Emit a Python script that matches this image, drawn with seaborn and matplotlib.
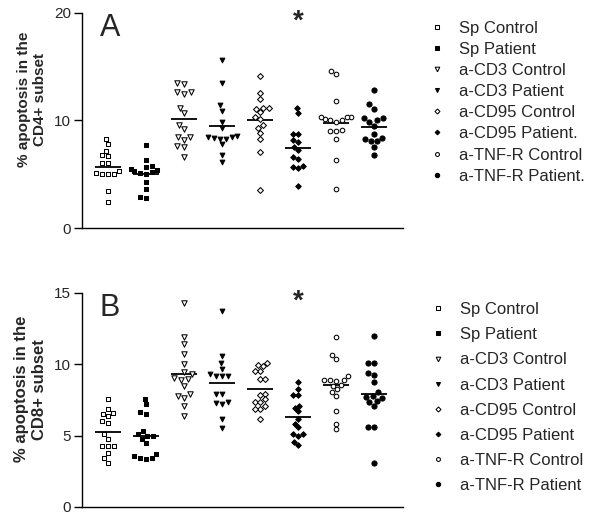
import matplotlib
matplotlib.use("Agg")
import matplotlib.pyplot as plt
from matplotlib.lines import Line2D
import seaborn as sns
import pandas as pd

# ---------------- data ----------------
groups = ["Sp Control", "Sp Patient", "a-CD3 Control", "a-CD3 Patient",
          "a-CD95 Control", "a-CD95 Patient", "a-TNF-R Control", "a-TNF-R Patient"]

legend_labels_A = ["Sp Control", "Sp Patient", "a-CD3 Control", "a-CD3 Patient",
                   "a-CD95 Control", "a-CD95 Patient.", "a-TNF-R Control", "a-TNF-R Patient."]
legend_labels_B = ["Sp Control", "Sp Patient", "a-CD3 Control", "a-CD3 Patient",
                   "a-CD95 Control", "a-CD95 Patient", "a-TNF-R Control", "a-TNF-R Patient"]

# Panel A: % apoptosis in the CD4+ subset
cd4_sp_control = [8.3, 7.8, 7.2, 6.8, 6.7, 6.0, 6.0, 5.0, 5.0, 5.0, 5.1, 5.3, 3.4, 2.4]
cd4_sp_patient = [7.7, 6.3, 5.8, 5.7, 5.5, 5.4, 5.3, 5.2, 5.1, 5.0, 4.3, 3.6, 2.9, 2.8]
cd4_cd3_control = [13.4, 13.5, 12.65, 12.5, 12.65, 11.2, 10.7, 9.6, 9.2, 8.5, 8.5, 8.2, 7.6, 7.5, 6.6]
cd4_cd3_patient = [15.6, 13.45, 11.4, 10.9, 9.85, 9.3, 8.6, 8.5, 8.45, 8.4, 8.3, 8.3, 7.8, 6.8, 6.1]
cd4_cd95_control = [14.1, 12.6, 12.0, 11.2, 11.1, 11.2, 10.8, 10.35, 10.15, 9.55, 9.3, 8.85, 8.3, 7.05, 3.55]
cd4_cd95_patient = [11.15, 10.7, 8.7, 8.7, 8.0, 8.2, 7.3, 7.55, 6.4, 6.6, 5.65, 5.6, 5.75, 3.9]
cd4_tnf_control = [14.3, 14.6, 11.8, 10.1, 10.3, 10.3, 10.35, 10.0, 9.85, 10.0, 9.05, 9.05, 9.1, 8.3, 6.3, 3.6]
cd4_tnf_patient = [12.8, 11.5, 11.1, 10.2, 10.2, 10.0, 9.85, 9.5, 8.75, 8.4, 8.3, 8.05, 8.05, 7.55, 6.8]

# Panel B: % apoptosis in the CD8+ subset
cd8_sp_control = [7.6, 6.9, 6.6, 6.5, 6.35, 6.0, 5.9, 5.1, 4.8, 4.3, 4.3, 4.3, 3.8, 3.4, 3.1]
cd8_sp_patient = [7.6, 7.2, 6.65, 6.5, 5.3, 5.1, 5.0, 5.0, 4.8, 4.5, 3.7, 3.55, 3.4, 3.35, 3.4]
cd8_cd3_control = [14.3, 11.95, 11.4, 10.75, 10.05, 9.45, 9.3, 8.9, 8.95, 9.05, 8.5, 7.9, 7.65, 7.8, 7.05, 6.4]
cd8_cd3_patient = [13.75, 10.55, 10.1, 9.7, 9.3, 9.15, 9.2, 9.15, 7.95, 7.95, 7.35, 7.3, 7.2, 6.2, 5.55]
cd8_cd95_control = [10.1, 9.85, 9.95, 9.55, 9.55, 8.95, 9.0, 7.95, 7.85, 7.55, 7.35, 7.35, 7.05, 6.85, 6.85, 6.15]
cd8_cd95_patient = [8.75, 8.25, 7.85, 7.85, 7.1, 6.95, 6.7, 6.15, 5.85, 5.6, 5.1, 5.0, 5.1, 4.55, 4.35]
cd8_tnf_control = [11.95, 10.65, 10.35, 9.15, 8.9, 8.85, 8.9, 8.9, 8.55, 8.5, 8.25, 8.05, 7.75, 6.75, 5.85, 5.45]
cd8_tnf_patient = [12.0, 10.1, 10.1, 9.4, 9.25, 8.75, 8.05, 7.8, 7.7, 7.45, 7.65, 7.35, 7.05, 5.6, 5.6, 3.05]

cd4_series = [cd4_sp_control, cd4_sp_patient, cd4_cd3_control, cd4_cd3_patient,
              cd4_cd95_control, cd4_cd95_patient, cd4_tnf_control, cd4_tnf_patient]
cd8_series = [cd8_sp_control, cd8_sp_patient, cd8_cd3_control, cd8_cd3_patient,
              cd8_cd95_control, cd8_cd95_patient, cd8_tnf_control, cd8_tnf_patient]

yticks_A = [0, 10, 20]
yticks_B = [0, 5, 10, 15]


def long_df(series):
    rows = []
    for g, vals in zip(groups, series):
        for v in vals:
            rows.append({"group": g, "value": v})
    return pd.DataFrame(rows)


dfA = long_df(cd4_series)
dfB = long_df(cd8_series)

# ---------------- style ----------------
sns.set_theme(style="ticks")
plt.rcParams["font.family"] = ["Liberation Sans", "DejaVu Sans"]
plt.rcParams["axes.linewidth"] = 1.0
plt.rcParams["axes.edgecolor"] = "black"

markers = ["s", "s", "v", "v", "D", "D", "o", "o"]
faces = ["white", "black", "white", "black", "white", "black", "white", "black"]
msizes = [3.3, 3.4, 3.9, 3.4, 3.0, 2.8, 3.3, 3.7]

fig = plt.figure(figsize=(5.89, 5.14), dpi=100)
W, H = 589, 514
axA = fig.add_axes([82 / W, 1 - 228 / H, 321 / W, 215 / H])
axB = fig.add_axes([82 / W, 1 - 507 / H, 321 / W, 214 / H])


def draw_panel(ax, df, ymax, yticks, ylabel, label_size, letter, label_y):
    for g, m, fc, ms in zip(groups, markers, faces, msizes):
        sub = df[df["group"] == g]
        sns.swarmplot(data=sub, x="group", y="value", order=groups, marker=m,
                      color=fc, edgecolor="black", linewidth=0.75, size=ms,
                      ax=ax, legend=False)
    sns.pointplot(data=df, x="group", y="value", order=groups, estimator="mean",
                  errorbar=None, color="black", marker="_", linestyle="none",
                  markersize=19, markeredgewidth=1.3, ax=ax, legend=False)
    ax.set_xlim(-0.684, 7.76)
    ax.set_ylim(0, ymax)
    ax.set_yticks(yticks)
    ax.set_xticks([])
    ax.set_xlabel("")
    ax.set_ylabel(ylabel, fontsize=label_size, fontweight="bold", linespacing=1.25)
    ax.yaxis.set_label_coords(-0.108, label_y)
    ax.tick_params(axis="y", length=6, width=1, pad=2, labelsize=11, color="black")
    sns.despine(ax=ax)
    ax.text(0.056, 1.0, letter, transform=ax.transAxes, fontsize=22,
            va="top", ha="left")
    ax.text(5, ymax * 1.02, "*", fontsize=20, fontweight="bold",
            ha="center", va="top")
    handles = [Line2D([], [], marker=m, linestyle="none", markerfacecolor=fc,
                      markeredgecolor="black", markeredgewidth=0.75,
                      markersize=ms * 0.85)
               for m, fc, ms in zip(markers, faces, msizes)]
    return handles


hA = draw_panel(axA, dfA, 20, yticks_A, "% apoptosis in the\nCD4+ subset", 11, "A", 0.6)
hB = draw_panel(axB, dfB, 15, yticks_B, "% apoptosis in the\nCD8+ subset", 12, "B", 0.55)

fig.legend(hA, legend_labels_A, loc="upper left", bbox_to_anchor=(428.6 / W, 1 - 20.5 / H),
           frameon=False, fontsize=12, handlelength=1.0, handletextpad=0.8,
           labelspacing=0.37, borderpad=0, borderaxespad=0)
fig.legend(hB, legend_labels_B, loc="upper left", bbox_to_anchor=(429.6 / W, 1 - 302.0 / H),
           frameon=False, fontsize=12, handlelength=1.0, handletextpad=0.8,
           labelspacing=0.61, borderpad=0, borderaxespad=0)

fig.savefig("out.png", dpi=100)
